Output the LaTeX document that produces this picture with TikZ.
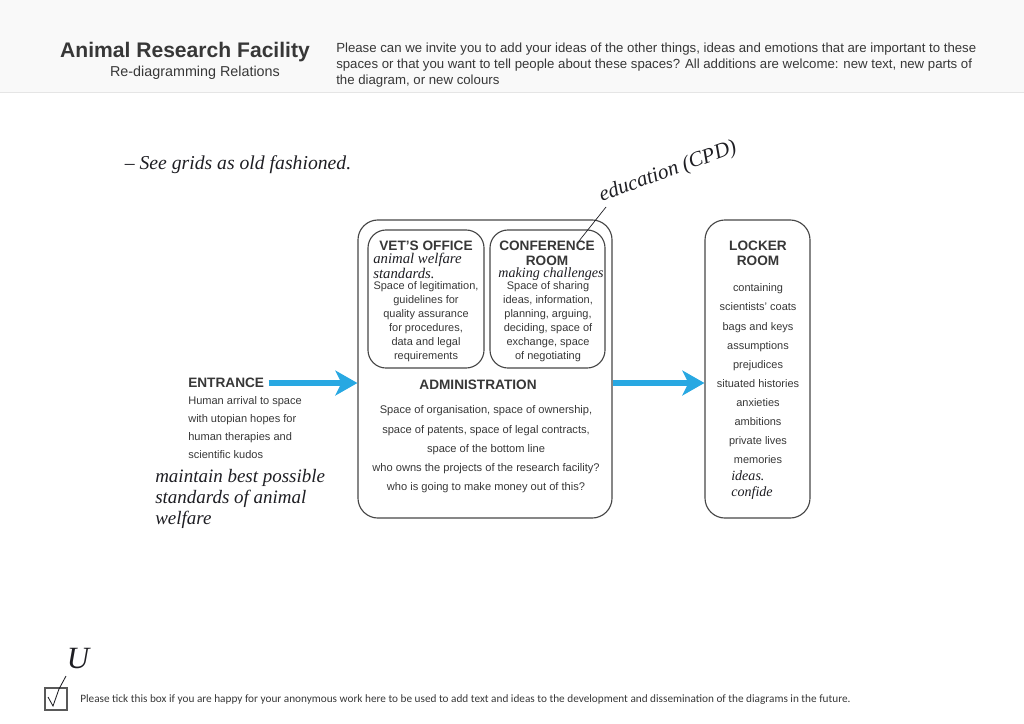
\documentclass[tikz,border=0pt]{standalone}
\usepackage{fontspec}
\setmainfont{Liberation Sans}
\newfontfamily\handfont{Liberation Serif}
\newfontfamily\tickfont{Carlito}
\usetikzlibrary{arrows.meta}
\definecolor{ink}{RGB}{55,55,55}
\definecolor{pen}{RGB}{30,30,35}
\definecolor{arrowblue}{RGB}{40,168,226}
\definecolor{frame}{RGB}{70,70,70}

\begin{document}
\begin{tikzpicture}[x=0.025cm,y=-0.025cm]
                \tikzstyle{every node}+=[inner sep=0pt]
                \tikzstyle{room}=[draw=frame,line width=0.8pt,rounded corners=0.5cm]
                \tikzstyle{head}=[text=ink,font=\fontsize{9.7}{10.8}\selectfont\bfseries,align=center]
                \tikzstyle{body}=[text=ink,font=\fontsize{7.8}{13.6}\selectfont,align=center]
                \tikzstyle{hand}=[text=pen,font=\handfont\itshape\fontsize{12}{13}\selectfont,align=left]
                \tikzstyle{flow}=[draw=arrowblue,line width=3.6pt,-{Stealth[length=0.55cm,width=0.62cm,inset=0.15cm]}]
                \useasboundingbox (0,0) rectangle (1024,723);
                \fill [gray!5] (0,0) rectangle (1024,92);
                \draw [gray!20] (0,92) -- (1024,92);
                \node [text=ink,font=\fontsize{15}{18}\selectfont\bfseries] (title) at (185,52) {Animal Research Facility};
                \node [text=ink,font=\fontsize{10.2}{12}\selectfont] (subtitle) at (195,73) {Re-diagramming Relations};
                \node [text=ink,font=\fontsize{9.4}{11.4}\selectfont,align=left,anchor=west] (invite) at (336,65) {Please can we invite you to add your ideas of the other things, ideas and emotions that are important to these\\spaces or that you want to tell people about these spaces? All additions are welcome: new text, new parts of\\the diagram, or new colours};
                \node [hand,font=\handfont\itshape\fontsize{14}{16}\selectfont] (grids) at (238,165) {– See grids as old fashioned.};
                \node [room,minimum width=6.35cm,minimum height=7.45cm] (admin) at (485,369) {};
                \node [room,rounded corners=0.45cm,minimum width=2.9cm,minimum height=3.45cm] (vet) at (426,299) {};
                \node [room,rounded corners=0.45cm,minimum width=2.875cm,minimum height=3.45cm] (conf) at (547.5,299) {};
                \node [room,minimum width=2.625cm,minimum height=7.45cm] (locker) at (757.5,369) {};
                \node [head] (vettitle) at (426,246) {VET'S OFFICE};
                \node [hand,anchor=west,font=\handfont\itshape\fontsize{10.5}{8.5}\selectfont] (vetnote) at (373,266) {animal welfare\\standards.};
                \node [body,font=\fontsize{7.8}{10}\selectfont] (vettext) at (426,322) {Space of legitimation,\\guidelines for\\quality assurance\\for procedures,\\data and legal\\requirements};
                \node [head] (conftitle) at (547,253) {CONFERENCE\\ROOM};
                \node [hand,font=\handfont\itshape\fontsize{10}{11}\selectfont] (confnote) at (551,274) {making challenges};
                \node [body,font=\fontsize{7.8}{10}\selectfont] (conftext) at (548,322) {Space of sharing\\ideas, information,\\planning, arguing,\\deciding, space of\\exchange, space\\of negotiating};
                \node [head] (admintitle) at (478,385) {ADMINISTRATION};
                \node [body,font=\fontsize{7.9}{13.7}\selectfont] (admintext) at (486,449.5) {Space of organisation, space of ownership,\\space of patents, space of legal contracts,\\space of the bottom line\\who owns the projects of the research facility?\\who is going to make money out of this?};
                \node [head,anchor=west] (entrance) at (188,383) {ENTRANCE};
                \node [body,align=left,anchor=west,font=\fontsize{7.85}{12.8}\selectfont] (entrtext) at (188,428) {Human arrival to space\\with utopian hopes for\\human therapies and\\scientific kudos};
                \node [hand,anchor=west,font=\handfont\itshape\fontsize{13.5}{15}\selectfont] (welfare) at (155,499) {maintain best possible\\standards of animal\\welfare};
                \node [head] (lockertitle) at (758,253) {LOCKER\\ROOM};
                \node [body] (lockertext) at (758,374) {containing\\scientists' coats\\bags and keys\\assumptions\\prejudices\\situated histories\\anxieties\\ambitions\\private lives\\memories};
                \node [hand,anchor=west,font=\handfont\itshape\fontsize{10}{11.5}\selectfont] (lockernote) at (731,485) {ideas.\\confide};
                \draw [flow] ([xshift=3pt]entrance.east) -- (entrance.east -| admin.west);
                \draw [flow] (entrance.east -| admin.east) -- (entrance.east -| locker.west);
                \node [hand,rotate=20,font=\handfont\itshape\fontsize{15}{16}\selectfont] (edu) at (668,172) {education (CPD)};
                \coordinate (edutail) at (606,207);
                \coordinate (edutip) at (579,241);
                \draw [pen,line width=0.5pt] (edutail) -- (edutip);
                \node [draw=gray!70!black,line width=1.6pt,minimum size=0.55cm] (tickbox) at (56,699) {};
                \draw [pen,line width=0.6pt] (48,697) -- (53,706) -- (59,689) -- (66,676);
                \node [hand,font=\handfont\itshape\fontsize{22}{24}\selectfont] (initial) at (78,659) {U};
                \node [anchor=west,text=ink,font=\tickfont\fontsize{8}{9}\selectfont] (consent) at (80,700) {Please tick this box if you are happy for your anonymous work here to be used to add text and ideas to the development and dissemination of the diagrams in the future.};
              \end{tikzpicture}
\end{document}
